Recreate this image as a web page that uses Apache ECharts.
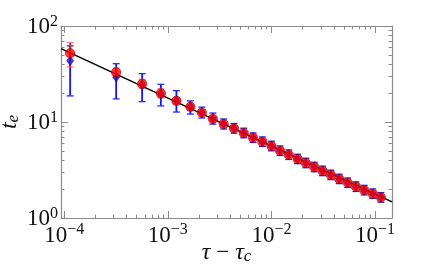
<!DOCTYPE html>
<html>
<head>
<meta charset="utf-8">
<script src="https://cdn.jsdelivr.net/npm/echarts@6/dist/echarts.min.js"></script>
<style>html,body{margin:0;padding:0;background:#fff;}#c{width:436px;height:270px;}</style>
</head>
<body>
<div id="c"></div>
<script>
var xVals = [1.14e-4, 3.17e-4, 5.65e-4, 8.56e-4, 1.21e-3, 1.65e-3, 2.13e-3, 2.72e-3, 3.46e-3, 4.35e-3, 5.40e-3, 6.64e-3, 8.18e-3, 1.00e-2, 1.21e-2, 1.47e-2, 1.79e-2, 2.15e-2, 2.59e-2, 3.12e-2, 3.75e-2, 4.52e-2, 5.45e-2, 6.55e-2, 7.87e-2, 9.50e-2, 1.14e-1];
var redY = [52.0, 32.9, 24.9, 19.9, 16.6, 14.4, 12.5, 10.8, 9.53, 8.59, 7.68, 6.86, 6.23, 5.62, 5.02, 4.56, 4.12, 3.74, 3.40, 3.09, 2.81, 2.55, 2.33, 2.12, 1.95, 1.79, 1.64];
var redErrLow = [37.4, 29.0, 22.6, 17.8, 15.6, 13.7, 12.0, 10.4, 9.2, 8.3, 7.45, 6.66, 6.05, 5.46, 4.88, 4.43, 4.01, 3.64, 3.31, 3.01, 2.74, 2.49, 2.27, 2.07, 1.90, 1.75, 1.60];
var redErrHigh = [67.3, 36.5, 27.8, 22.1, 17.7, 15.1, 13.0, 11.2, 9.85, 8.88, 7.92, 7.07, 6.42, 5.79, 5.17, 4.70, 4.24, 3.85, 3.50, 3.18, 2.89, 2.62, 2.40, 2.18, 2.01, 1.84, 1.69];
var blueY = [43.5, 29.4, 24.6, 19.6, 16.6, 14.4, 12.5, 10.8, 9.53, 8.59, 7.68, 6.86, 6.23, 5.62, 5.02, 4.56, 4.12, 3.74, 3.40, 3.09, 2.81, 2.55, 2.33, 2.12, 1.95, 1.79, 1.64];
var blueErrLow = [18.7, 17.4, 16.3, 14.7, 12.7, 12.1, 11.0, 9.5, 8.45, 7.65, 6.85, 6.12, 5.56, 5.01, 4.48, 4.07, 3.68, 3.34, 3.03, 2.76, 2.51, 2.28, 2.08, 1.89, 1.74, 1.60, 1.46];
var blueErrHigh = [62.0, 40.5, 31.9, 24.7, 21.2, 16.6, 14.3, 12.4, 10.75, 9.65, 8.62, 7.70, 6.99, 6.31, 5.63, 5.12, 4.62, 4.20, 3.81, 3.47, 3.15, 2.86, 2.61, 2.38, 2.19, 2.01, 1.84];
var fitX = [9.3e-5, 0.146];
var fitY = [58.2, 1.47];
var xTickValues = [1e-4, 1e-3, 1e-2, 1e-1];
var xTickExps = ['\u22124', '\u22123', '\u22122', '\u22121'];
var yTickValues = [1, 10, 100];
var yTickExps = ['0', '1', '2'];
var xRange = [9.3e-5, 0.146];
var yRange = [1, 100];

function minorTicks(lo, hi) {
  var out = [];
  for (var e = -6; e <= 3; e++) {
    for (var k = 2; k <= 9; k++) {
      var v = k * Math.pow(10, e);
      if (v >= lo && v <= hi) out.push(v);
    }
  }
  return out;
}
var xMinor = minorTicks(xRange[0], xRange[1]);
var yMinor = minorTicks(yRange[0], yRange[1]);

var FONT = 'Liberation Serif';
var AX = '#8a8a8a';
var rich = {
  b: {fontFamily: FONT, fontSize: 23, color: '#111', verticalAlign: 'bottom', lineHeight: 25},
  s: {fontFamily: FONT, fontSize: 16, color: '#111', verticalAlign: 'top', lineHeight: 16}
};
function fmt(vals, exps) {
  return function (v) {
    var best = 0, bd = 1e9;
    for (var i = 0; i < vals.length; i++) {
      var d = Math.abs(Math.log10(v) - Math.log10(vals[i]));
      if (d < bd) { bd = d; best = i; }
    }
    return '{b|10}{s|' + exps[best] + '}';
  };
}

function mkX(pos, major, labels) {
  return {
    type: 'log', position: pos, min: xRange[0], max: xRange[1], offset: 0,
    axisLine: {show: major, onZero: false, lineStyle: {color: AX, width: 1.2}},
    axisTick: {show: true, inside: true, length: major ? 7 : 3.5, customValues: major ? xTickValues : xMinor, lineStyle: {color: AX, width: 1}},
    minorTick: {show: false},
    splitLine: {show: false},
    axisLabel: labels ? {show: true, customValues: xTickValues, formatter: fmt(xTickValues, xTickExps), rich: rich, margin: 4} : {show: false},
    name: labels ? '{i|\u03c4}{n|\u2212}{i|\u03c4}{sub|c}' : '',
    nameLocation: 'middle', nameGap: 22, nameMoveOverlap: false,
    nameTextStyle: {rich: {
      i: {fontFamily: FONT, fontStyle: 'italic', fontSize: 24, color: '#111'},
      n: {fontFamily: FONT, fontSize: 23, color: '#111', padding: [0, 6, 0, 6]},
      sub: {fontFamily: FONT, fontStyle: 'italic', fontSize: 17, color: '#111', verticalAlign: 'bottom', padding: [8, 0, 0, 0]}
    }}
  };
}
function mkY(pos, major, labels) {
  return {
    type: 'log', position: pos, min: yRange[0], max: yRange[1], offset: 0,
    axisLine: {show: major, onZero: false, lineStyle: {color: AX, width: 1.2}},
    axisTick: {show: true, inside: true, length: major ? 7 : 3.5, customValues: major ? yTickValues : yMinor, lineStyle: {color: AX, width: 1}},
    minorTick: {show: false},
    splitLine: {show: false},
    axisLabel: labels ? {show: true, customValues: yTickValues, formatter: fmt(yTickValues, yTickExps), rich: rich, margin: 3} : {show: false},
    name: labels ? '{i|t}{sub|e}' : '',
    nameLocation: 'middle', nameGap: 39, nameRotate: 90, nameMoveOverlap: false,
    nameTextStyle: {rich: {
      i: {fontFamily: FONT, fontStyle: 'italic', fontSize: 24, color: '#111'},
      sub: {fontFamily: FONT, fontStyle: 'italic', fontSize: 17, color: '#111', verticalAlign: 'bottom', padding: [8, 0, 0, 0]}
    }}
  };
}

function errData(lo, hi) {
  return xVals.map(function (x, i) { return [x, lo[i], hi[i]]; });
}
function errSeries(lo, hi, lineColor, capColor, z) {
  return {
    type: 'custom', xAxisIndex: 0, yAxisIndex: 0, z: z, silent: true,
    data: errData(lo, hi),
    encode: {x: 0, y: [1, 2]},
    renderItem: function (params, api) {
      var p1 = api.coord([api.value(0), api.value(1)]);
      var p2 = api.coord([api.value(0), api.value(2)]);
      var w = 3.5;
      return {type: 'group', children: [
        {type: 'line', shape: {x1: p1[0], y1: p1[1], x2: p2[0], y2: p2[1]}, style: {stroke: lineColor, lineWidth: 1.8}},
        {type: 'line', shape: {x1: p1[0] - w, y1: p1[1], x2: p1[0] + w, y2: p1[1]}, style: {stroke: capColor, lineWidth: 1.3}},
        {type: 'line', shape: {x1: p2[0] - w, y1: p2[1], x2: p2[0] + w, y2: p2[1]}, style: {stroke: capColor, lineWidth: 1.3}}
      ]};
    }
  };
}

var chart = echarts.init(document.getElementById('c'), null, {renderer: 'canvas'});
chart.setOption({
  animation: false,
  backgroundColor: '#fff',
  grid: {left: 61, right: 44, top: 26, bottom: 52, containLabel: false, outerBoundsMode: 'none'},
  xAxis: [mkX('bottom', true, true), mkX('bottom', false, false), mkX('top', true, false), mkX('top', false, false)],
  yAxis: [mkY('left', true, true), mkY('left', false, false), mkY('right', true, false), mkY('right', false, false)],
  series: [
    errSeries(blueErrLow, blueErrHigh, '#1414f5', '#2a2af5', 2),
    errSeries(redErrLow, redErrHigh, '#f01818', 'rgba(240,90,110,0.75)', 3),
    {type: 'line', xAxisIndex: 0, yAxisIndex: 0, z: 4, symbol: 'none', silent: true,
      data: fitX.map(function (x, i) { return [x, fitY[i]]; }),
      lineStyle: {color: '#000', width: 1.5}},
    {type: 'scatter', xAxisIndex: 0, yAxisIndex: 0, z: 5, symbol: 'diamond', symbolSize: [7, 10], silent: true,
      data: xVals.map(function (x, i) { return [x, blueY[i]]; }),
      itemStyle: {color: '#1010d8', borderColor: '#00008a', borderWidth: 0.5}},
    {type: 'scatter', xAxisIndex: 0, yAxisIndex: 0, z: 6, symbol: 'circle', symbolSize: 9.5, silent: true,
      data: xVals.map(function (x, i) { return [x, redY[i]]; }),
      itemStyle: {color: '#ff0000', borderColor: '#7a0000', borderWidth: 0.6}}
  ]
});
</script>
</body>
</html>
